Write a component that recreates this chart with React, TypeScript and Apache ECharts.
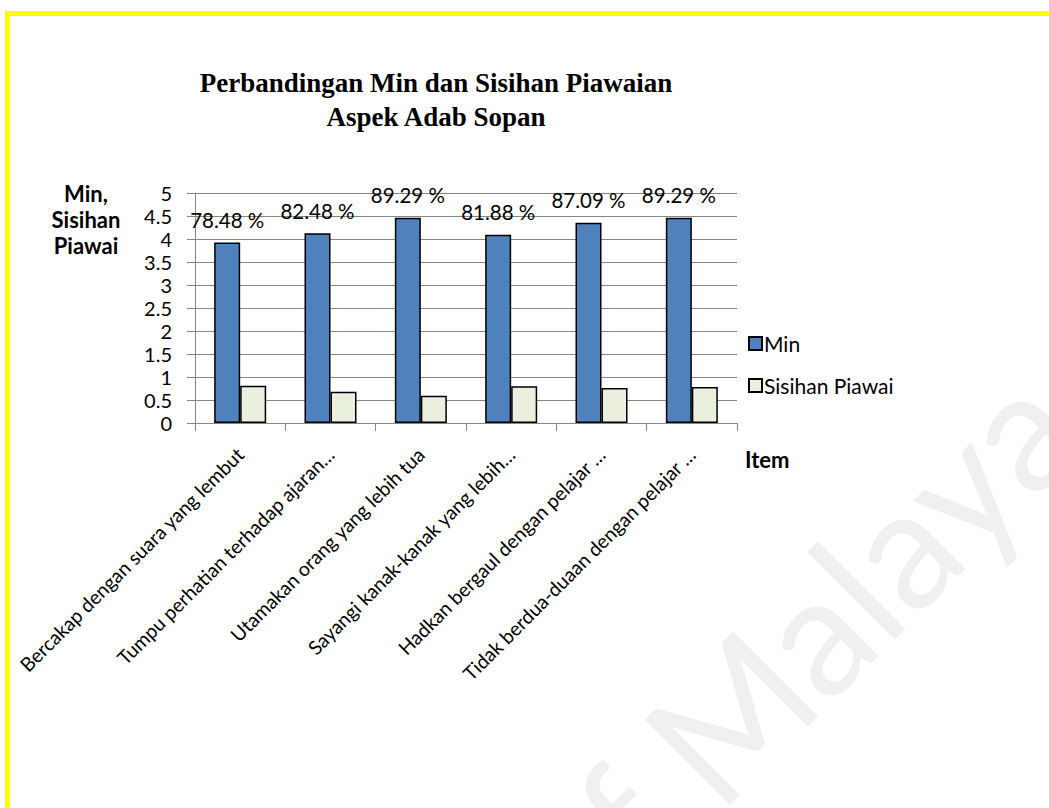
import React, { useEffect, useRef } from "react";
import * as echarts from "echarts";

const categories = [
  "Bercakap dengan suara yang lembut",
  "Tumpu perhatian terhadap ajaran…",
  "Utamakan orang yang lebih tua",
  "Sayangi kanak-kanak yang lebih…",
  "Hadkan bergaul dengan pelajar …",
  "Tidak berdua-duaan dengan pelajar …",
];
const minValues = [3.924, 4.124, 4.4645, 4.094, 4.3545, 4.4645];
const sdValues = [0.81, 0.68, 0.59, 0.8, 0.76, 0.78];
const percentLabels = ["78.48 %", "82.48 %", "89.29 %", "81.88 %", "87.09 %", "89.29 %"];
const yTicks = { min: 0, max: 5, interval: 0.5 };

const FONT = "Lato";

export default function App() {
  const ref = useRef<HTMLDivElement>(null);
  useEffect(() => {
    if (!ref.current) return;
    const chart = echarts.init(ref.current, undefined, { renderer: "svg" });
    chart.setOption({
      animation: false,
      backgroundColor: "#ffffff",
      title: {
        text: "Perbandingan Min dan Sisihan Piawaian\nAspek Adab Sopan",
        left: 431,
        top: 61,
        textAlign: "center",
        textStyle: {
          fontFamily: "Liberation Serif",
          fontWeight: "bold",
          fontSize: 27,
          lineHeight: 34,
          color: "#000",
        },
      },
      legend: {
        orient: "vertical",
        left: 743,
        top: 328,
        icon: "rect",
        itemWidth: 13,
        itemHeight: 13,
        itemGap: 21,
        textStyle: { fontFamily: FONT, fontSize: 21, lineHeight: 21, color: "#000", padding: [0, 0, 0, -3] },
        data: ["Min", "Sisihan Piawai"],
      },
      grid: { left: 195, right: 312, top: 193, bottom: 385, containLabel: false },
      xAxis: {
        type: "category",
        data: categories,
        axisLine: { show: true, lineStyle: { color: "#868686", width: 1 } },
        axisTick: { show: true, length: 8, interval: 0, lineStyle: { color: "#868686" } },
        axisLabel: {
          interval: 0,
          rotate: 45,
          margin: 28,
          fontFamily: FONT,
          fontSize: 19.5,
          color: "#000",
        },
      },
      yAxis: {
        type: "value",
        min: yTicks.min,
        max: yTicks.max,
        interval: yTicks.interval,
        axisLine: { show: true, lineStyle: { color: "#868686", width: 1 } },
        axisTick: { show: true, length: 8, lineStyle: { color: "#868686" } },
        splitLine: { show: true, lineStyle: { color: "#868686", width: 1 } },
        axisLabel: {
          margin: 23,
          fontFamily: FONT,
          fontSize: 20,
          color: "#000",
          formatter: (v: number) => String(v),
        },
      },
      series: [
        {
          name: "Min",
          type: "bar",
          data: minValues,
          barWidth: 26,
          barGap: "0%",
          itemStyle: { color: "#4f81bd", borderColor: "#000", borderWidth: 1.5 },
          label: {
            show: true,
            position: "top",
            distance: 12,
            fontFamily: FONT,
            fontSize: 20.5,
            color: "#000",
            formatter: (p: any) => percentLabels[p.dataIndex],
          },
        },
        {
          name: "Sisihan Piawai",
          type: "bar",
          data: sdValues,
          barWidth: 26,
          barGap: "0%",
          itemStyle: { color: "#ebefde", borderColor: "#000", borderWidth: 1.5 },
        },
      ],
      graphic: [
        {
          type: "text",
          z: -10,
          silent: true,
          x: 596,
          y: 965,
          rotation: Math.PI / 4,
          style: {
            text: "of Malaya",
            fontFamily: FONT,
            fontSize: 168,
            fill: "#f0f0f0",
            align: "left",
            verticalAlign: "bottom",
          },
        },
        {
          type: "text",
          x: 86,
          y: 180,
          style: {
            text: "Min,\nSisihan\nPiawai",
            fontFamily: FONT,
            fontWeight: "bold",
            fontSize: 22,
            lineHeight: 26,
            fill: "#000",
            align: "center",
            verticalAlign: "top",
          },
        },
        {
          type: "text",
          x: 745,
          y: 459,
          style: {
            text: "Item",
            fontFamily: FONT,
            fontWeight: "bold",
            fontSize: 22,
            fill: "#000",
            align: "left",
            verticalAlign: "middle",
          },
        },
        {
          type: "rect",
          silent: true,
          shape: { x: 7.5, y: 13.5, width: 1200, height: 1000 },
          style: { fill: "none", stroke: "#ffff00", lineWidth: 5 },
        },
      ],
    });
    return () => chart.dispose();
  }, []);
  return (
    <div
      ref={ref}
      style={{ position: "fixed", left: 0, top: 0, width: 1049, height: 808 }}
    />
  );
}
